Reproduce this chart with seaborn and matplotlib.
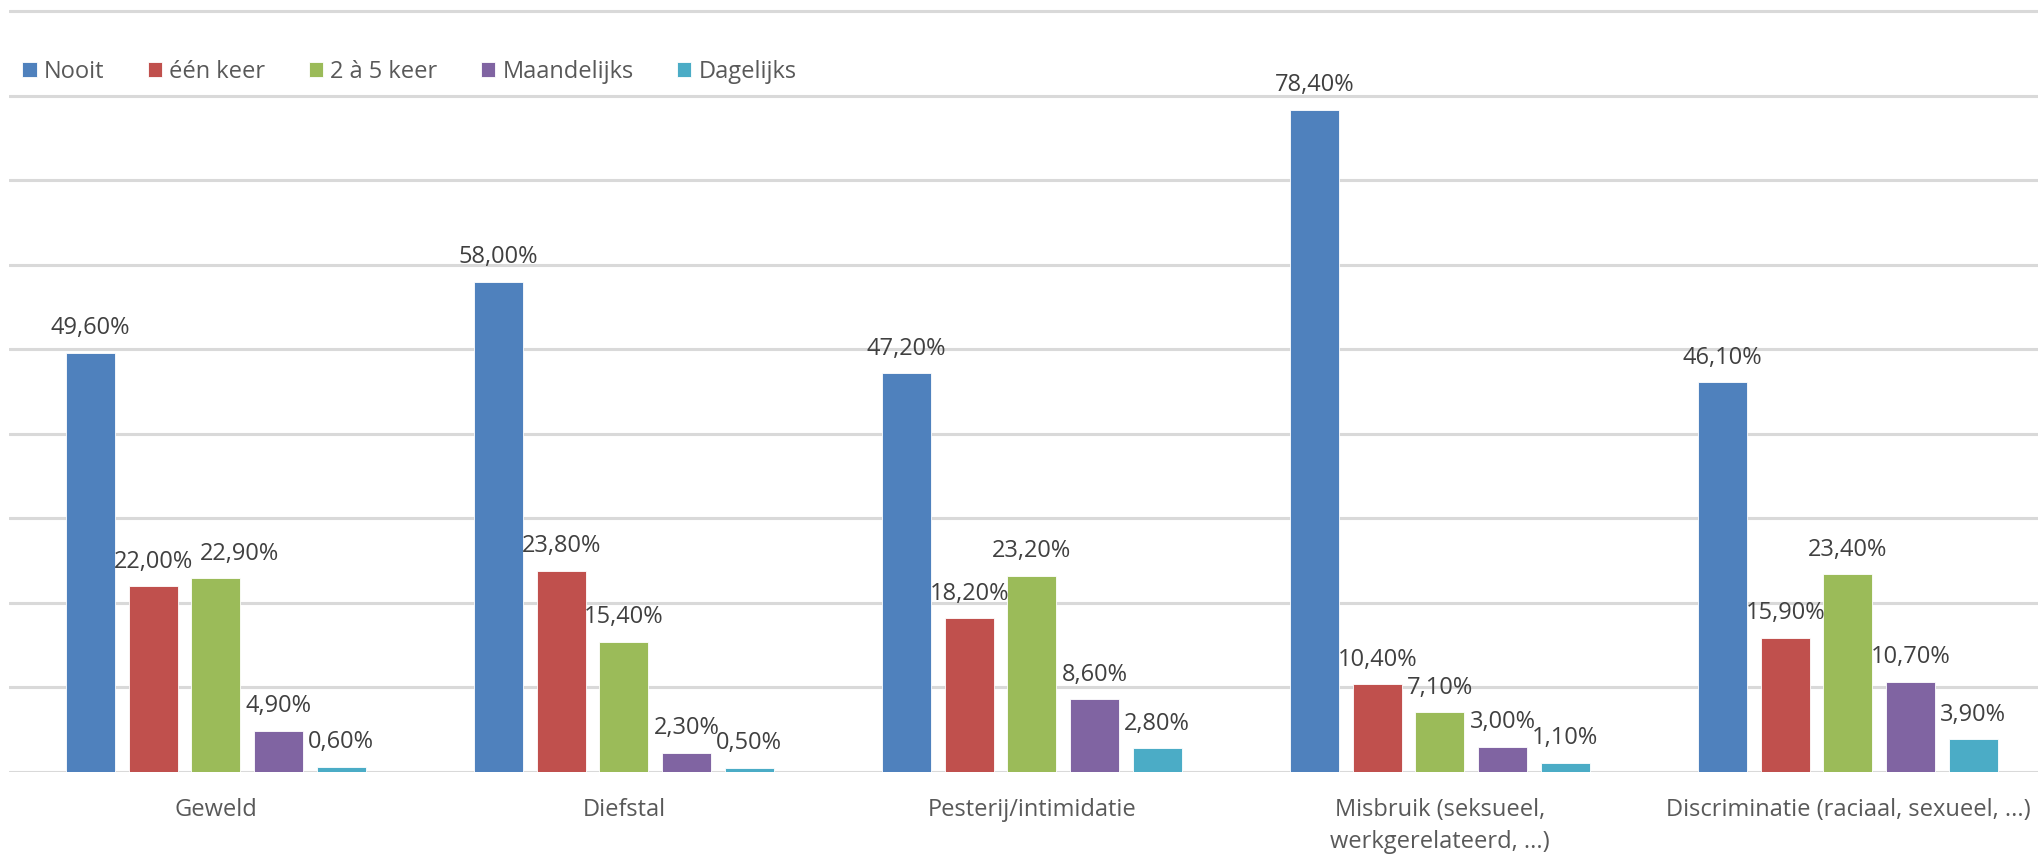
import matplotlib
matplotlib.use("Agg")
import matplotlib.pyplot as plt
import numpy as np
import pandas as pd
import seaborn as sns

sns.set_theme(style="white")
plt.rcParams['font.family'] = ['Open Sans', 'DejaVu Sans']

# categories and series
categories = ["Geweld", "Diefstal", "Pesterij/intimidatie",
              "Misbruik (seksueel,\nwerkgerelateerd, ...)",
              "Discriminatie (raciaal, sexueel, ...)"]
frequencies = ["Nooit", "één keer", "2 à 5 keer", "Maandelijks", "Dagelijks"]
nooit = [49.6, 58.0, 47.2, 78.4, 46.1]
een_keer = [22.0, 23.8, 18.2, 10.4, 15.9]
twee_vijf_keer = [22.9, 15.4, 23.2, 7.1, 23.4]
maandelijks = [4.9, 2.3, 8.6, 3.0, 10.7]
dagelijks = [0.6, 0.5, 2.8, 1.1, 3.9]

colors = ["#4F81BD", "#C0504D", "#9BBB59", "#8064A2", "#4BACC6"]

series = [nooit, een_keer, twee_vijf_keer, maandelijks, dagelijks]
rows = []
for freq, vals in zip(frequencies, series):
    for cat, v in zip(categories, vals):
        rows.append({"categorie": cat, "frequentie": freq, "pct": v})
df = pd.DataFrame(rows)

W, H = 2038, 857
fig = plt.figure(figsize=(W / 100, H / 100), dpi=100)
ax = fig.add_axes([9 / W, 85 / H, (W - 9) / W, 772 / H])

sns.barplot(data=df, x="categorie", y="pct", hue="frequentie",
            order=categories, hue_order=frequencies, palette=colors,
            width=0.768, gap=0.22, errorbar=None, saturation=1,
            edgecolor="white", linewidth=0.6, ax=ax)

ax.set_ylim(0, 91.36)
ax.set_xlim(-0.507, 4.466)
ax.set_yticks(np.arange(0, 91, 10))
ax.set_yticklabels([])
ax.yaxis.grid(True, color="#D9D9D9", linewidth=2.2)
ax.set_axisbelow(True)
for s in ax.spines.values():
    s.set_visible(False)
ax.tick_params(axis="y", length=0)
ax.tick_params(axis="x", length=0, pad=19, labelsize=17, labelcolor="#595959")
for lbl in ax.get_xticklabels():
    lbl.set_linespacing(1.45)
ax.set_xlabel("")
ax.set_ylabel("")

# data labels
for i, cont in enumerate(ax.containers):
    vals = series[i]
    texts = [f"{v:.2f}%".replace(".", ",") for v in vals]
    anns = ax.bar_label(cont, labels=texts, padding=9, fontsize=17,
                        color="#404040")
    if i == 2:
        # the 22,90% label sits shifted to the right in the reference
        anns[0].xyann = (17, anns[0].xyann[1])

sns.move_legend(ax, loc="center left", bbox_to_anchor=(13 / W, 1 - 72 / H),
                bbox_transform=fig.transFigure, ncol=5, frameon=False,
                title=None, fontsize=17, handlelength=0.6, handleheight=0.6,
                handletextpad=0.3, columnspacing=1.85, borderaxespad=0)
for t in ax.get_legend().get_texts():
    t.set_color("#595959")

fig.savefig("out.png", dpi=100)
